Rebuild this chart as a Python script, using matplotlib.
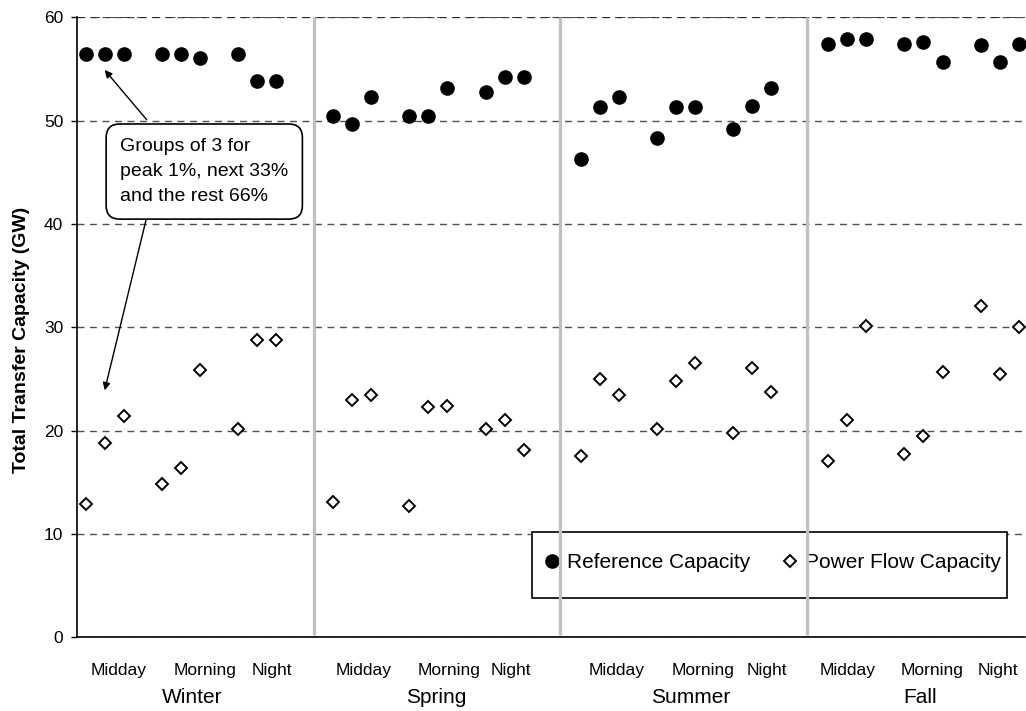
import matplotlib
matplotlib.use("Agg")
import matplotlib.pyplot as plt
from matplotlib.patches import Rectangle

plt.rcParams['font.family'] = ['Liberation Sans', 'DejaVu Sans']

# data
seasons = ['Winter', 'Spring', 'Summer', 'Fall']
periods = ['Midday', 'Morning', 'Night']

ref_capacity = [56.45, 56.45, 56.45, 56.45, 56.45, 56.1, 56.45, 53.8, 53.85,
                50.4, 49.7, 52.3, 50.4, 50.4, 53.2, 52.8, 54.2, 54.2,
                46.25, 51.3, 52.3, 48.35, 51.3, 51.3, 49.2, 51.4, 53.2,
                57.4, 57.9, 57.9, 57.4, 57.6, 55.7, 57.3, 55.7, 57.4]

flow_capacity = [12.93, 18.78, 21.39, 14.84, 16.39, 25.85, 20.16, 28.78, 28.78,
                 13.13, 22.94, 23.43, 12.74, 22.29, 22.42, 20.16, 21.03, 18.1,
                 17.55, 25.0, 23.43, 20.16, 24.84, 26.52, 19.8, 26.04, 23.78,
                 17.07, 21.03, 30.17, 17.78, 19.49, 25.68, 32.07, 25.52, 30.0]

# category slots: 3 points per period, blank slot between periods, extra between seasons
x = [13 * s + 4 * g + k for s in range(4) for g in range(3) for k in range(3)]

# label positions (category axis)
period_label_x = [1.75, 6.25, 9.8, 14.6, 19.1, 22.35, 27.9, 32.4, 35.8, 40.0, 44.45, 47.9]
season_label_x = [5.6, 18.4, 31.8, 43.8]
separator_x = [12.0, 24.93, 37.88]

fig = plt.figure(figsize=(10.26, 7.11), dpi=100)
ax = fig.add_axes([0.0753, 0.1037, 0.9237, 0.872])

ax.set_xlim(-0.44, 49.33)
ax.set_ylim(0, 60)
ax.set_yticks(range(0, 61, 10))
ax.set_xticks([])
ax.tick_params(axis='y', labelsize=12.5, length=4, width=1, pad=6)
for sp in ['top', 'right']:
    ax.spines[sp].set_visible(False)
for sp in ['left', 'bottom']:
    ax.spines[sp].set_linewidth(1.2)
ax.yaxis.grid(True, linestyle=(0, (5, 4)), color='#505050', linewidth=1)
ax.set_axisbelow(True)
ax.axhline(60, linestyle=(0, (5, 4)), color='#202020', linewidth=1.2, zorder=0.6)

ax.plot(x, ref_capacity, 'o', color='black', markersize=9.5, linestyle='none',
        label='Reference Capacity', zorder=3)
ax.plot(x, flow_capacity, 'D', markerfacecolor='white', markeredgecolor='black',
        markersize=6.5, markeredgewidth=1.4, linestyle='none',
        label='Power Flow Capacity', zorder=3)

# season separators, drawn over the legend like in the original
ax.vlines(separator_x, 0.2, 60, colors='#c0c0c0', linewidth=2.3, zorder=7)

for lx, lab in zip(period_label_x, periods * 4):
    ax.text(lx, -0.054, lab, transform=ax.get_xaxis_transform(),
            ha='center', va='center', fontsize=12.5)
for lx, lab in zip(season_label_x, seasons):
    ax.text(lx, -0.097, lab, transform=ax.get_xaxis_transform(),
            ha='center', va='center', fontsize=15)

ax.set_ylabel('Total Transfer Capacity (GW)', fontsize=14, fontweight='bold')
ax.yaxis.set_label_coords(-0.05, 0.48)

# legend frame + entries
frame = Rectangle((0.4795, 0.0639), 0.5018, 0.1055, transform=ax.transAxes,
                  facecolor='white', edgecolor='black', linewidth=1.2,
                  zorder=4.5, clip_on=False)
ax.add_patch(frame)
leg = ax.legend(loc='center left', bbox_to_anchor=(0.4922, 0.12), ncol=2,
                frameon=False, fontsize=15, handlelength=0.75,
                handletextpad=0.35, columnspacing=1.55, borderpad=0,
                borderaxespad=0, numpoints=1)
leg.set_zorder(5)

# callout
ax.annotate('', xy=(1.0, 54.9), xytext=(3.2, 50.1),
            arrowprops=dict(arrowstyle='-|>', color='black', lw=1,
                            mutation_scale=11, shrinkA=0, shrinkB=0), zorder=4)
ax.annotate('', xy=(1.0, 23.9), xytext=(3.2, 40.6),
            arrowprops=dict(arrowstyle='-|>', color='black', lw=1,
                            mutation_scale=11, shrinkA=0, shrinkB=0), zorder=4)
ax.text(6.23, 45.07, 'Groups of 3 for\npeak 1%, next 33%\nand the rest 66%',
        ha='center', va='center', multialignment='left', fontsize=14,
        linespacing=1.62, zorder=5,
        bbox=dict(boxstyle='round,pad=0.72,rounding_size=0.7',
                  facecolor='white', edgecolor='black', linewidth=1.2))

fig.savefig('out.png', dpi=100)
